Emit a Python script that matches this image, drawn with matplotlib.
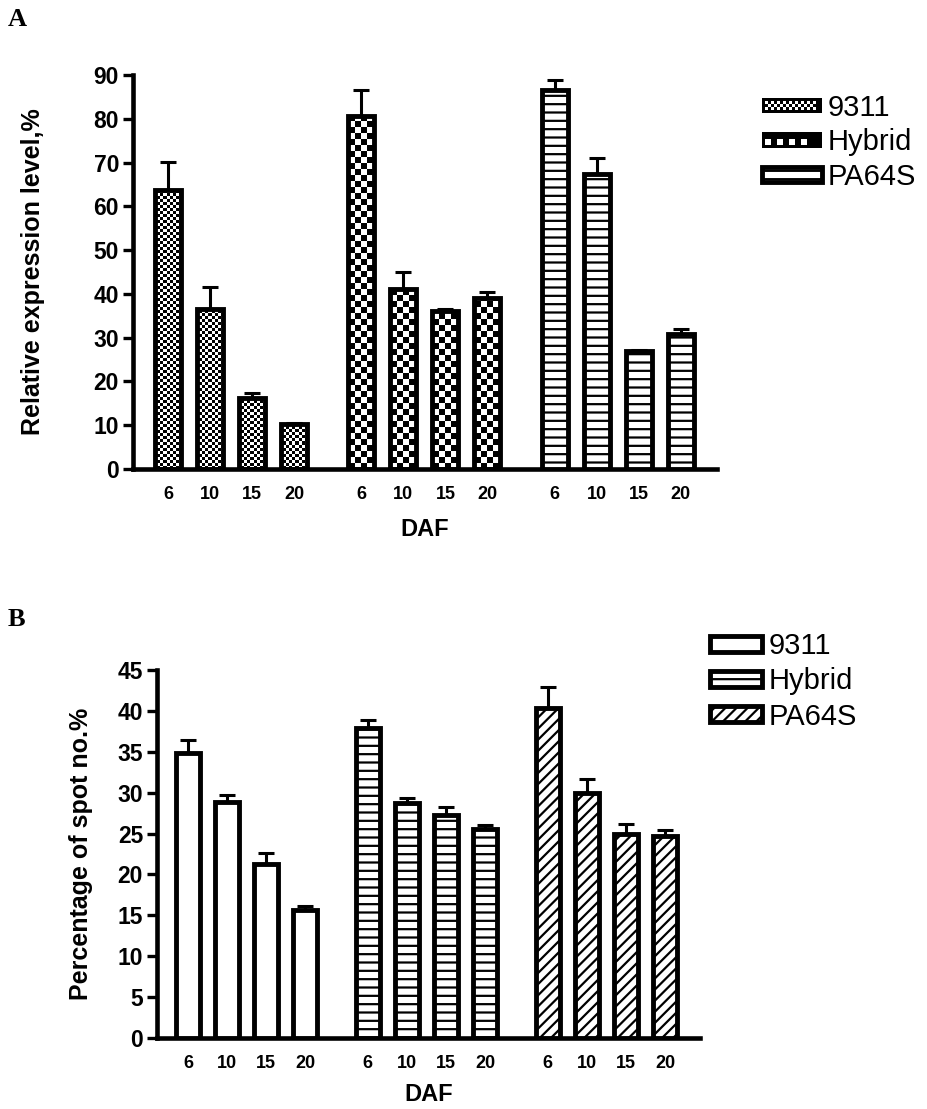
import numpy as np
import matplotlib
matplotlib.use('Agg')
import matplotlib.pyplot as plt
from matplotlib.patches import Rectangle
from matplotlib.legend_handler import HandlerBase

# DAF time points and lines
daf = ['6', '10', '15', '20']
lines = ['9311', 'Hybrid', 'PA64S']

# A: relative expression level (%) with upper error
expr_9311 = [63.7, 36.5, 16.2, 10.3]
expr_9311_err = [6.5, 5.1, 1.2, 0.3]
expr_hybrid = [80.6, 41.1, 36.2, 39.0]
expr_hybrid_err = [5.9, 3.9, 0.4, 1.4]
expr_pa64s = [86.5, 67.3, 26.9, 30.8]
expr_pa64s_err = [2.3, 3.8, 0.3, 1.2]

# B: percentage of spot number (%)
spot_9311 = [34.9, 28.9, 21.3, 15.6]
spot_9311_err = [1.5, 0.8, 1.3, 0.5]
spot_hybrid = [37.9, 28.7, 27.3, 25.5]
spot_hybrid_err = [1.0, 0.7, 1.0, 0.5]
spot_pa64s = [40.3, 30.0, 24.9, 24.7]
spot_pa64s_err = [2.6, 1.7, 1.3, 0.7]

plt.rcParams['font.family'] = ['Liberation Sans', 'DejaVu Sans']
plt.rcParams['font.weight'] = 'bold'
plt.rcParams['axes.labelweight'] = 'bold'
plt.rcParams['hatch.linewidth'] = 1.6

W, H = 928, 1109
fig = plt.figure(figsize=(W / 100, H / 100), dpi=100)

GROUP_STEP = 4.6
BAR_W = 0.62
EDGE_LW = 3.5


def add_axes_px(left, top, right, bottom):
    return fig.add_axes([left / W, 1 - bottom / H, (right - left) / W, (bottom - top) / H])


def checker_image(ax, cell):
    # checkerboard sized so one cell covers `cell` device pixels
    bb = ax.get_window_extent()
    nx, ny = int(bb.width // cell), int(bb.height // cell)
    arr = (np.add.outer(np.arange(ny), np.arange(nx)) % 2).astype(float)
    x0, x1 = ax.get_xlim()
    y0, y1 = ax.get_ylim()
    ext = [x0, x0 + (x1 - x0) * nx * cell / bb.width,
           y0, y0 + (y1 - y0) * ny * cell / bb.height]
    return arr, ext


class CheckerHandler(HandlerBase):
    def __init__(self, cell):
        super().__init__()
        self.cell = cell

    def create_artists(self, legend, orig_handle, xdescent, ydescent,
                       width, height, fontsize, trans):
        x0, y0 = -xdescent, -ydescent
        arts = [Rectangle((x0, y0), width, height, facecolor='black',
                          edgecolor='none', transform=trans)]
        b = 2.4
        c = self.cell
        nx = int((width - 2 * b) // c)
        ny = max(1, int((height - 2 * b) // c))
        for i in range(nx):
            for j in range(ny):
                if (i + j) % 2 == 0:
                    arts.append(Rectangle((x0 + b + i * c, y0 + b + j * c), c, c,
                                          facecolor='white', edgecolor='none',
                                          transform=trans))
        return arts


def draw_panel(ax, series, errors, fills, xlim, ylim, yticks, ylabel,
               ylabel_x, xlabel_y):
    ax.set_xlim(*xlim)
    ax.set_ylim(*ylim)
    xs = []
    handles = []
    handler_map = {}
    for g, (vals, err, fill) in enumerate(zip(series, errors, fills)):
        x = g * GROUP_STEP + np.arange(len(vals))
        xs.extend(x)
        kind, arg = fill
        if kind == 'checker':
            bars = ax.bar(x, vals, width=BAR_W, facecolor='none', edgecolor='black',
                          linewidth=EDGE_LW, zorder=3)
            arr, ext = checker_image(ax, arg)
            for b in bars:
                im = ax.imshow(arr, extent=ext, origin='lower', cmap='gray',
                               vmin=0, vmax=1, interpolation='nearest',
                               aspect='auto', zorder=2)
                im.set_clip_path(b)
            h = Rectangle((0, 0), 1, 1)
            handler_map[h] = CheckerHandler(arg * 0.72)
        else:
            ax.bar(x, vals, width=BAR_W, facecolor='white', edgecolor='black',
                   linewidth=EDGE_LW, hatch=arg, zorder=3)
            h = Rectangle((0, 0), 1, 1, facecolor='white', edgecolor='black',
                          linewidth=EDGE_LW, hatch=arg)
        handles.append(h)
        ax.errorbar(x, vals, yerr=[np.zeros(len(vals)), err], fmt='none',
                    ecolor='black', elinewidth=2.2, capsize=6, capthick=2.2,
                    zorder=4)
    ax.set_xlim(*xlim)
    ax.set_ylim(*ylim)
    ax.set_yticks(yticks)
    ax.set_xticks(xs)
    ax.set_xticklabels(daf * len(series))
    for s in ['top', 'right']:
        ax.spines[s].set_visible(False)
    for s in ['left', 'bottom']:
        ax.spines[s].set_linewidth(3.3)
    ax.tick_params(axis='y', direction='out', length=7, width=2.4, pad=3,
                   labelsize=16.5)
    ax.tick_params(axis='x', length=0, pad=12, labelsize=13)
    ax.set_ylabel(ylabel, fontsize=18)
    ax.yaxis.set_label_coords(ylabel_x, 0.5)
    ax.set_xlabel('DAF', fontsize=17)
    ax.xaxis.set_label_coords(0.5, xlabel_y)
    return handles, handler_map


# Panel A
ax_a = add_axes_px(133, 75, 717, 469)
hs, hm = draw_panel(
    ax_a,
    [expr_9311, expr_hybrid, expr_pa64s],
    [expr_9311_err, expr_hybrid_err, expr_pa64s_err],
    [('checker', 3), ('checker', 6), ('hatch', '--')],
    (-0.83, 13.06), (0, 90), np.arange(0, 91, 10),
    'Relative expression level,%', -0.151, -0.124)
fig.legend(hs, lines, handler_map=hm, loc='upper left',
           bbox_to_anchor=(762 / W, 1 - 94 / H), bbox_transform=fig.transFigure,
           frameon=False, prop={'size': 21, 'weight': 'normal'},
           handlelength=2.05, handleheight=0.45, handletextpad=0.2,
           labelspacing=0.22, borderpad=0, borderaxespad=0)

# Panel B
ax_b = add_axes_px(157, 670, 700, 1038)
hs, hm = draw_panel(
    ax_b,
    [spot_9311, spot_hybrid, spot_pa64s],
    [spot_9311_err, spot_hybrid_err, spot_pa64s_err],
    [('hatch', None), ('hatch', '--'), ('hatch', '///')],
    (-0.79, 13.09), (0, 45), np.arange(0, 46, 5),
    'Percentage of spot no.%', -0.118, -0.122)
fig.legend(hs, lines, handler_map=hm, loc='upper left',
           bbox_to_anchor=(710 / W, 1 - 632 / H), bbox_transform=fig.transFigure,
           frameon=False, prop={'size': 21, 'weight': 'normal'},
           handlelength=1.8, handleheight=0.48, handletextpad=0.2,
           labelspacing=0.25, borderpad=0, borderaxespad=0)

for label, top in [('A', 8), ('B', 608)]:
    fig.text(8 / W, 1 - top / H, label, family=['Liberation Serif', 'DejaVu Serif'],
             weight='bold', size=19, ha='left', va='top')

fig.savefig('out.png', dpi=100, facecolor='white')
